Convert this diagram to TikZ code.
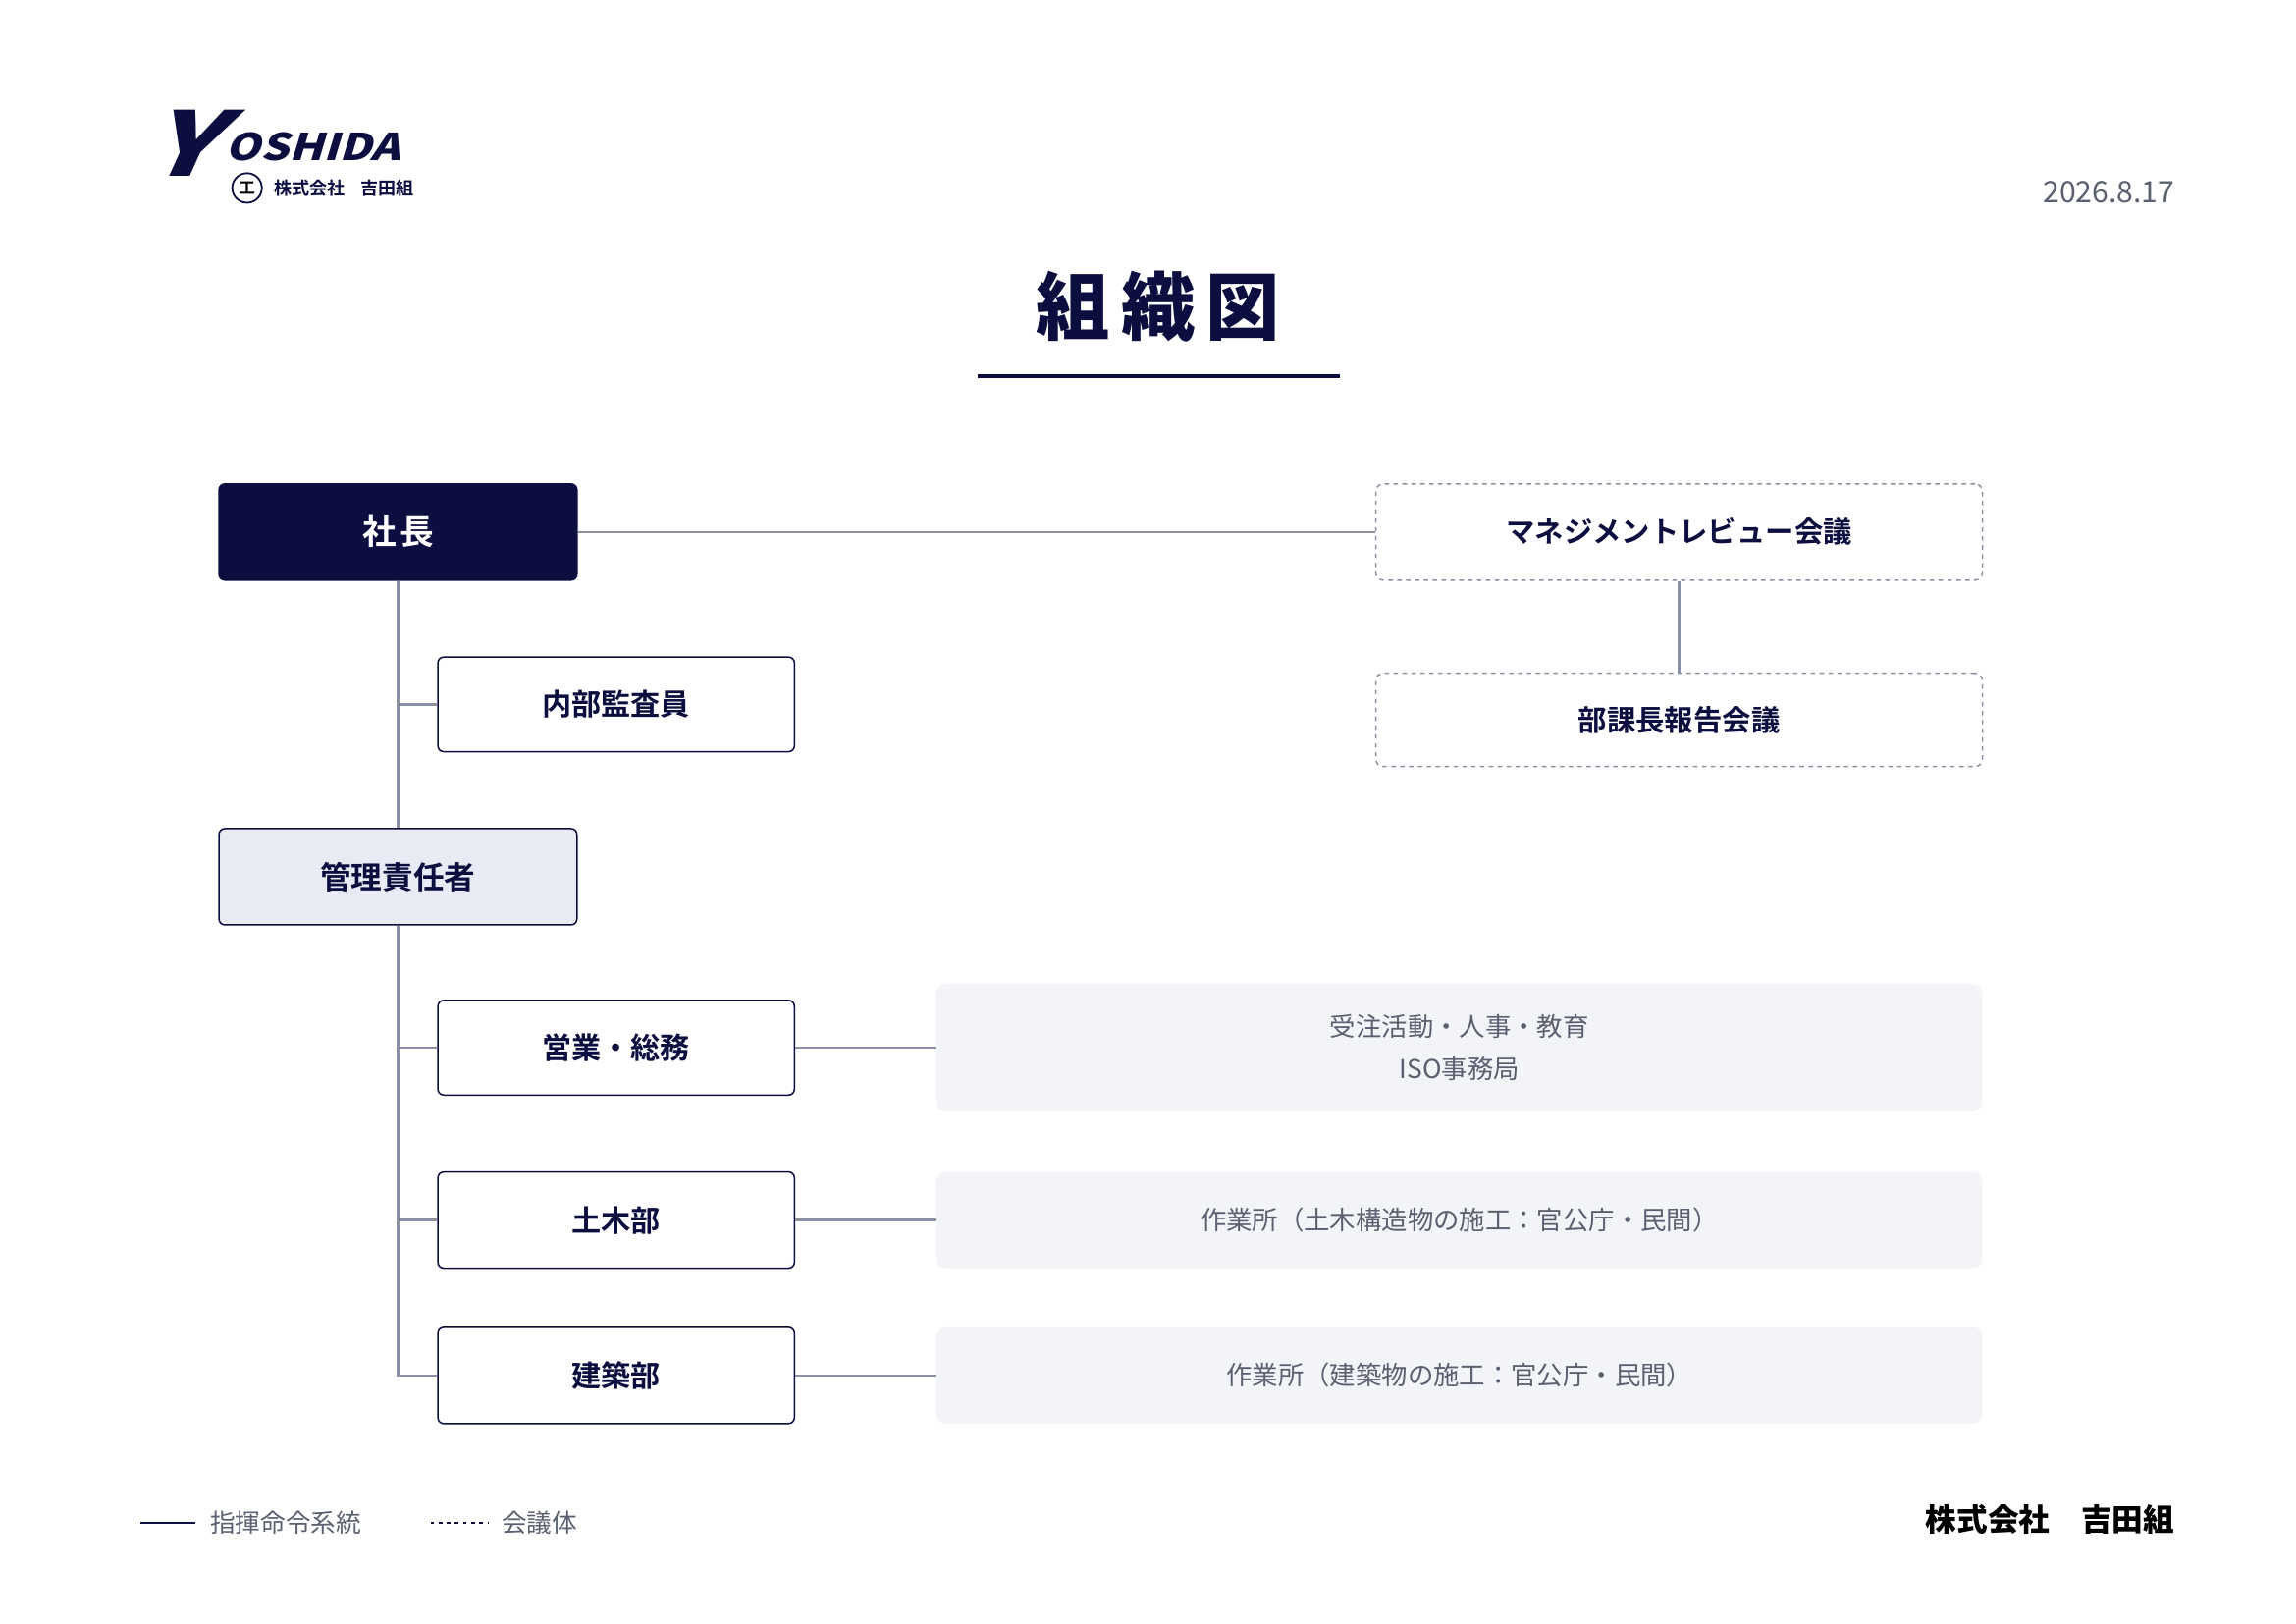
\documentclass[tikz,border=0pt]{standalone}
\usepackage{fontspec}
\setmainfont{Noto Sans CJK JP}
\newfontfamily\jpb{Noto Sans CJK JP}[BoldFont={* Bold}]
\newfontfamily\jpk{Noto Sans CJK JP Black}
\usetikzlibrary{calc}
\definecolor{navy}{HTML}{0B0E3F}
\definecolor{ln}{HTML}{8A8FA3}
\definecolor{gtx}{HTML}{5A6070}
\definecolor{lav}{HTML}{E8EAF4}
\definecolor{pale}{HTML}{F3F4F8}
\begin{document}
\begin{tikzpicture}[x=1pt,y=-1pt,
 conn/.style={ln,line width=1.5pt},
 box/.style={draw=navy,line width=1pt,rounded corners=4pt,fill=white,font=\jpb\bfseries\fontsize{20}{22}\selectfont,text=navy},
 meet/.style={draw=ln,dashed,line width=1pt,rounded corners=5pt,fill=white,font=\jpb\bfseries\fontsize{19.5}{22}\selectfont,text=navy},
 desc/.style={fill=pale,rounded corners=6pt,font=\fontsize{17.5}{28}\selectfont,text=gtx,align=center}]
\useasboundingbox (0,0) rectangle (1552,1097);
% logo
\node[anchor=west,text=navy,font=\jpk\fontsize{60}{60}\selectfont,inner sep=0,xscale=1.3,xslant=0.35] (ly) at (108,97) {Y};
\node[anchor=west,text=navy,font=\jpk\fontsize{25}{25}\selectfont,inner sep=0,xslant=0.3,xscale=1.2] (lo) at (155,99) {OSHIDA};
\node[draw=navy,circle,line width=1.2pt,minimum size=20pt,inner sep=0,font=\jpb\bfseries\fontsize{11}{11}\selectfont] (le) at (167,127) {工};
\node[anchor=west,text=navy,font=\jpb\bfseries\fontsize{12}{12}\selectfont,inner sep=0] (lt) at (185,127) {株式会社\hspace{0.9em}吉田組};
% date
\node[anchor=east,text=gtx,font=\fontsize{20}{20}\selectfont,inner sep=0] (date) at (1470,130) {2026.8.17};
% title
\node[text=navy,font=\jpk\fontsize{50}{50}\selectfont,inner sep=0] (title) at (783,207) {組\hspace{0.15em}織\hspace{0.15em}図};
\draw[navy,line width=3pt] (661,254) -- (906,254);
% nodes
\node[box,fill=navy,text=white,font=\jpb\bfseries\fontsize{23}{24}\selectfont,minimum width=242pt,minimum height=65pt] (pres) at (269,359.5) {社\hspace{0.1em}長};
\node[meet,minimum width=410pt,minimum height=65pt] (mr) at (1135,359.5) {マネジメントレビュー会議};
\node[meet,minimum width=410pt,minimum height=63pt] (bk) at (1135,486.5) {部課長報告会議};
\node[box,minimum width=241pt,minimum height=64pt] (audit) at (416.5,476) {内部監査員};
\node[box,fill=lav,font=\jpb\bfseries\fontsize{21}{22}\selectfont,minimum width=242pt,minimum height=65pt] (mgr) at (269,592.5) {管理責任者};
\node[box,minimum width=241pt,minimum height=64pt] (sales) at (416.5,708) {営業・総務};
\node[box,minimum width=241pt,minimum height=65pt] (civil) at (416.5,824.5) {土木部};
\node[box,minimum width=241pt,minimum height=65pt] (arch) at (416.5,929.5) {建築部};
\node[desc,minimum width=707pt,minimum height=86pt] (d1) at (986.5,708) {受注活動・人事・教育\\ISO事務局};
\node[desc,minimum width=707pt,minimum height=65pt] (d2) at (986.5,824.5) {作業所（土木構造物の施工：官公庁・民間）};
\node[desc,minimum width=707pt,minimum height=65pt] (d3) at (986.5,929.5) {作業所（建築物の施工：官公庁・民間）};
% connectors
\draw[conn] (pres.east) -- (mr.west);
\draw[conn] (mr.south) -- (bk.north);
\draw[conn] (pres.south) -- (mgr.north);
\draw[conn] (pres.south |- audit.west) -- (audit.west);
\coordinate (vb) at (mgr.south |- arch.west);
\draw[conn] (mgr.south) -- (vb) -- (arch.west);
\draw[conn] (mgr.south |- sales.west) -- (sales.west);
\draw[conn] (mgr.south |- civil.west) -- (civil.west);
\draw[conn] (sales.east) -- (d1.west);
\draw[conn] (civil.east) -- (d2.west);
\draw[conn] (arch.east) -- (d3.west);
% legend
\coordinate (l1a) at (95,1029); \coordinate (l1b) at (132,1029);
\draw[navy,line width=1.3pt] (l1a) -- (l1b);
\node[anchor=west,text=gtx,font=\fontsize{17}{17}\selectfont,inner sep=0] (lg1) at (142,1029) {指揮命令系統};
\coordinate (l2a) at (291,1029); \coordinate (l2b) at (330,1029);
\draw[navy,line width=1.3pt,dash pattern=on 2.5pt off 3pt] (l2a) -- (l2b);
\node[anchor=west,text=gtx,font=\fontsize{17}{17}\selectfont,inner sep=0] (lg2) at (339,1029) {会議体};
% footer
\node[anchor=east,text=black,font=\jpk\fontsize{21}{21}\selectfont,inner sep=0] (foot) at (1470,1027) {株式会社\hspace{1em}吉田組};
\end{tikzpicture}
\end{document}
